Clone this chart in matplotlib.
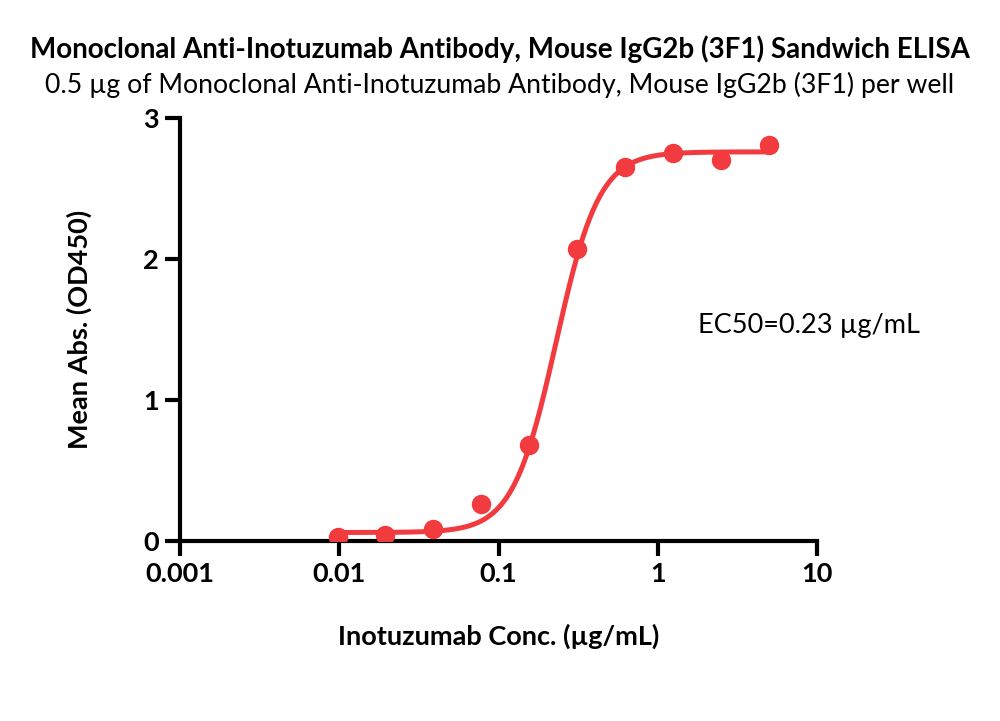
import numpy as np
import matplotlib
matplotlib.use("Agg")
import matplotlib.pyplot as plt

conc = [0.00977, 0.0195, 0.039, 0.078, 0.156, 0.3125, 0.625, 1.25, 2.5, 5.0]
absorb = [0.03, 0.04, 0.085, 0.26, 0.68, 2.07, 2.65, 2.75, 2.70, 2.81]

# 4PL fit parameters
bottom, top, ec50, hill = 0.06, 2.76, 0.23, 3.2

red = "#f23b3f"
plt.rcParams['font.family'] = ['Lato', 'DejaVu Sans']

fig = plt.figure(figsize=(10, 7.21), dpi=100)
ax = fig.add_axes([0.18, 0.2497, 0.637, 0.5866])

xf = np.logspace(np.log10(conc[0]), np.log10(conc[-1]), 400)
yf = bottom + (top - bottom) / (1 + (ec50 / xf) ** hill)
ax.plot(xf, yf, color=red, lw=3.6, zorder=2)
ax.plot(conc, absorb, 'o', color=red, ms=13, zorder=3)

ax.set_xscale('log')
ax.set_xlim(0.001, 10)
ax.set_ylim(0, 3)
ax.set_xticks([0.001, 0.01, 0.1, 1, 10])
ax.set_xticklabels(['0.001', '0.01', '0.1', '1', '10'])
ax.xaxis.set_minor_locator(matplotlib.ticker.NullLocator())
ax.set_yticks([0, 1, 2, 3])
ax.set_yticklabels(['0', '1', '2', '3'])

for s in ['top', 'right']:
    ax.spines[s].set_visible(False)
for s in ['left', 'bottom']:
    ax.spines[s].set_linewidth(3)
ax.tick_params(width=3, length=11, direction='out', labelsize=19.5, pad=4)
for lab in ax.get_xticklabels() + ax.get_yticklabels():
    lab.set_fontweight('bold')

ax.set_xlabel('Inotuzumab Conc. (µg/mL)', fontsize=19.5, fontweight='bold', labelpad=27)
ax.set_ylabel('Mean Abs. (OD450)', fontsize=19.5, fontweight='bold', labelpad=37)

fig.text(0.5, 0.932, 'Monoclonal Anti-Inotuzumab Antibody, Mouse IgG2b (3F1) Sandwich ELISA',
         ha='center', va='center', fontsize=20, fontweight='bold')
fig.text(0.5, 0.882, '0.5 µg of Monoclonal Anti-Inotuzumab Antibody, Mouse IgG2b (3F1) per well',
         ha='center', va='center', fontsize=19.2)
ax.text(1.78, 1.53, 'EC50=0.23 µg/mL', fontsize=19.5, ha='left', va='center')

fig.savefig('out.png', dpi=100)
